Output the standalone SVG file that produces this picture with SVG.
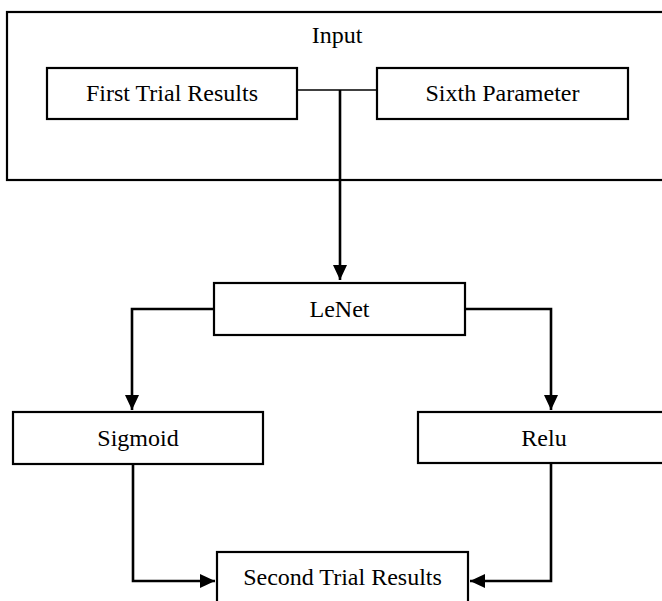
<svg xmlns="http://www.w3.org/2000/svg" width="662" height="601" viewBox="0 0 662 601">
<style>
.box{fill:#fff;stroke:#000;stroke-width:2.2}
.t{font-family:"Liberation Serif","Times New Roman",serif;font-size:24px;fill:#000;text-anchor:middle}
.ln{fill:none;stroke:#000;stroke-width:2.6}
.ln1{fill:none;stroke:#000;stroke-width:1.5}
</style>
<defs>
<marker id="ah" viewBox="0 0 15 14" refX="15" refY="7" markerWidth="15" markerHeight="14" markerUnits="userSpaceOnUse" orient="auto">
<path d="M0,0 L15,7 L0,14 Z" fill="#000"/>
</marker>
</defs>
<rect width="662" height="601" fill="#fff"/>
<g id="input">
<rect class="box" x="7" y="12" width="670" height="168"/>
<text class="t" x="337" y="43">Input</text>
</g>
<g id="first-trial">
<rect class="box" x="47" y="68" width="250" height="51"/>
<text class="t" x="172" y="101">First Trial Results</text>
</g>
<g id="sixth-param">
<rect class="box" x="377" y="68" width="251" height="51"/>
<text class="t" x="502.5" y="101">Sixth Parameter</text>
</g>
<g id="lenet">
<rect class="box" x="214" y="283" width="251" height="52"/>
<text class="t" x="339.5" y="317">LeNet</text>
</g>
<g id="sigmoid">
<rect class="box" x="13" y="412" width="250" height="52"/>
<text class="t" x="138" y="446">Sigmoid</text>
</g>
<g id="relu">
<rect class="box" x="418" y="412" width="252" height="51"/>
<text class="t" x="544" y="446">Relu</text>
</g>
<g id="second-trial">
<rect class="box" x="217" y="552" width="251" height="60"/>
<text class="t" x="342.5" y="585">Second Trial Results</text>
</g>
<g id="connectors">
<path class="ln1" d="M297,90 H377"/>
<path class="ln" d="M340,90 V280" marker-end="url(#ah)"/>
<path class="ln" d="M214,309 H132 V410" marker-end="url(#ah)"/>
<path class="ln" d="M465,309 H551 V410" marker-end="url(#ah)"/>
<path class="ln" d="M133,464 V581 H215" marker-end="url(#ah)"/>
<path class="ln" d="M551,463 V581 H470" marker-end="url(#ah)"/>
</g>
</svg>
